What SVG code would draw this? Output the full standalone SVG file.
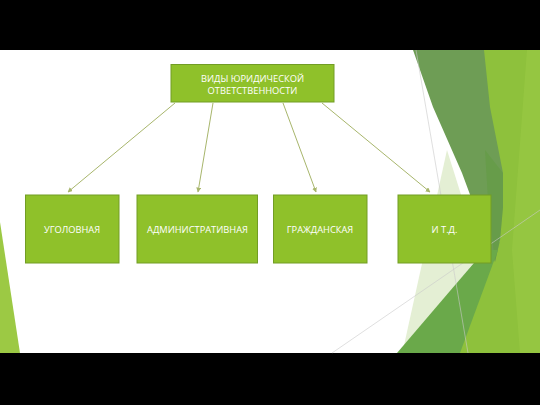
<svg xmlns="http://www.w3.org/2000/svg" width="540" height="405" viewBox="0 0 540 405">
  <style>
    .box { fill: #8fc12a; stroke: #729d25; stroke-width: 1; }
    .lbl { fill: #ffffff; font-family: "Open Sans", "Liberation Sans", sans-serif; font-size: 9.3px; text-anchor: middle; }
    .conn { stroke: #a8b66c; stroke-width: 1; fill: none; marker-end: url(#ah); }
    .thin { stroke: #c9c9c9; stroke-width: 0.6; fill: none; }
  </style>
  <defs>
    <marker id="ah" viewBox="0 0 8 8" refX="7" refY="4" markerWidth="5" markerHeight="5" orient="auto" markerUnits="userSpaceOnUse">
      <path d="M0,0 L8,4 L0,8 z" fill="#a8b66c"/>
    </marker>
  </defs>

  <!-- letterbox -->
  <rect x="0" y="0" width="540" height="405" fill="#000000"/>
  <rect x="0" y="50" width="540" height="303" fill="#ffffff"/>

  <!-- decorative background -->
  <g id="decor">
    <polygon points="0,222 0,353 20,353" fill="#9cc944"/>
    <polygon points="480,50 540,50 540,353 455,353 500,240" fill="#8ec13c"/>
    <polygon points="527,50 540,50 540,353 520,353 512,250" fill="#a3d04b" opacity="0.35"/>
    <polygon points="447,150 480,255 403,350" fill="#e4efd4"/>
    <polygon points="413,50 484,50 490,107 503,173 503,207 500,240 495,262 462,173 433,107" fill="#6e9d55"/>
    <polygon points="485,150 503,173 503,207 500,240 495,262 488,200" fill="#5c9a3a" opacity="0.4"/>
    <polygon points="397,353 460,353 498,250 485,250" fill="#6aa94a"/>
    <polyline class="thin" points="416,50 468,353"/>
    <polyline class="thin" points="332,353 540,210"/>
  </g>

  <g id="connectors">
    <line class="conn" x1="175" y1="103" x2="68" y2="192"/>
    <line class="conn" x1="213" y1="103" x2="198" y2="192"/>
    <line class="conn" x1="283" y1="103" x2="316" y2="192"/>
    <line class="conn" x1="322" y1="103" x2="430" y2="192"/>
  </g>

  <g id="root">
    <rect class="box" x="171" y="64.5" width="163" height="37.5"/>
    <text class="lbl" x="252.5" y="81.5">ВИДЫ ЮРИДИЧЕСКОЙ</text>
    <text class="lbl" x="252.5" y="93.5">ОТВЕТСТВЕННОСТИ</text>
  </g>
  <g id="criminal">
    <rect class="box" x="25.5" y="195" width="93.5" height="68"/>
    <text class="lbl" x="72" y="233">УГОЛОВНАЯ</text>
  </g>
  <g id="administrative">
    <rect class="box" x="137" y="195" width="120.5" height="68"/>
    <text class="lbl" x="197.5" y="233">АДМИНИСТРАТИВНАЯ</text>
  </g>
  <g id="civil">
    <rect class="box" x="273.5" y="195" width="93.5" height="68"/>
    <text class="lbl" x="320" y="233">ГРАЖДАНСКАЯ</text>
  </g>
  <g id="etc">
    <rect class="box" x="398" y="195" width="93" height="68"/>
    <text class="lbl" x="444.5" y="233">И Т.Д.</text>
  </g>
</svg>
